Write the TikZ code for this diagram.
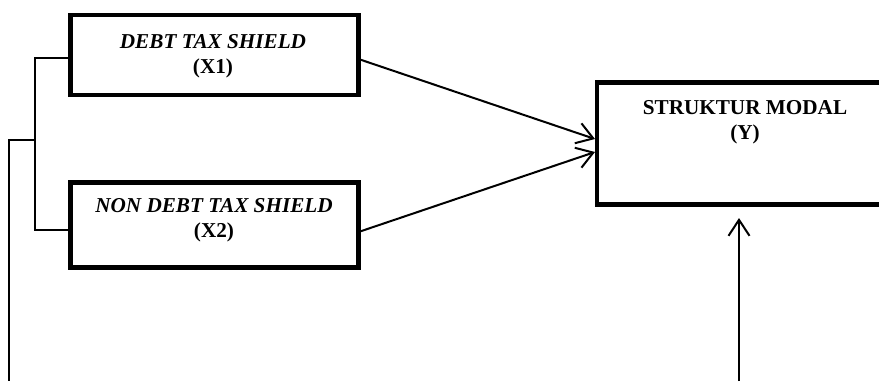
\documentclass[tikz,border=0pt]{standalone}
\usepackage{fontspec}
\setmainfont{Liberation Serif}
\usetikzlibrary{arrows.meta}
\begin{document}
\begin{tikzpicture}[x=1pt,y=-1pt,
  varbox/.style={draw,line width=4.2pt,rectangle,inner sep=0pt,align=center},
  lbl/.style={align=center,font=\fontsize{21.2}{24.5}\selectfont\bfseries,inner sep=0pt},
  thin/.style={line width=1.6pt},
  arr/.style={line width=2pt,-{Straight Barb[length=16pt,width=21pt,line width=2pt]}}]
\useasboundingbox (0,0) rectangle (879,381);
\clip (0,0) rectangle (879,381);
% boxes
\node[varbox,minimum width=288pt,minimum height=80pt] (x1) at (214.5,55) {};
\node[varbox,minimum width=288pt,minimum height=85pt] (x2) at (214.5,225) {};
\node[varbox,minimum width=296pt,minimum height=122pt] (y) at (745,143.5) {};
% labels
\node[lbl] (t1) at (213,56) {\textit{DEBT TAX SHIELD}\\(X1)};
\node[lbl] (t2) at (214,220) {\textit{NON DEBT TAX SHIELD}\\(X2)};
\node[lbl] (ty) at (745,122) {STRUKTUR MODAL\\(Y)};
% bracket
\coordinate (b1) at (35,58);
\coordinate (b2) at (35,230);
\coordinate (bm) at (35,140);
\coordinate (bl) at (9,140);
\coordinate (bb) at (9,381);
\draw[thin] (x1.west |- b1) -- (b1) -- (b2) -- (x2.west |- b2);
\draw[thin] (bm) -- (bl) -- (bb);
% arrows
\coordinate (a1s) at (358.5,59);
\coordinate (a1e) at (595,139);
\coordinate (a2s) at (358.5,232);
\coordinate (a2e) at (595,152);
\draw[arr] (a1s) -- (a1e);
\draw[arr] (a2s) -- (a2e);
\coordinate (a3s) at (739,381);
\coordinate (a3e) at (739,218);
\draw[arr] (a3s) -- (a3e);
\end{tikzpicture}
\end{document}
